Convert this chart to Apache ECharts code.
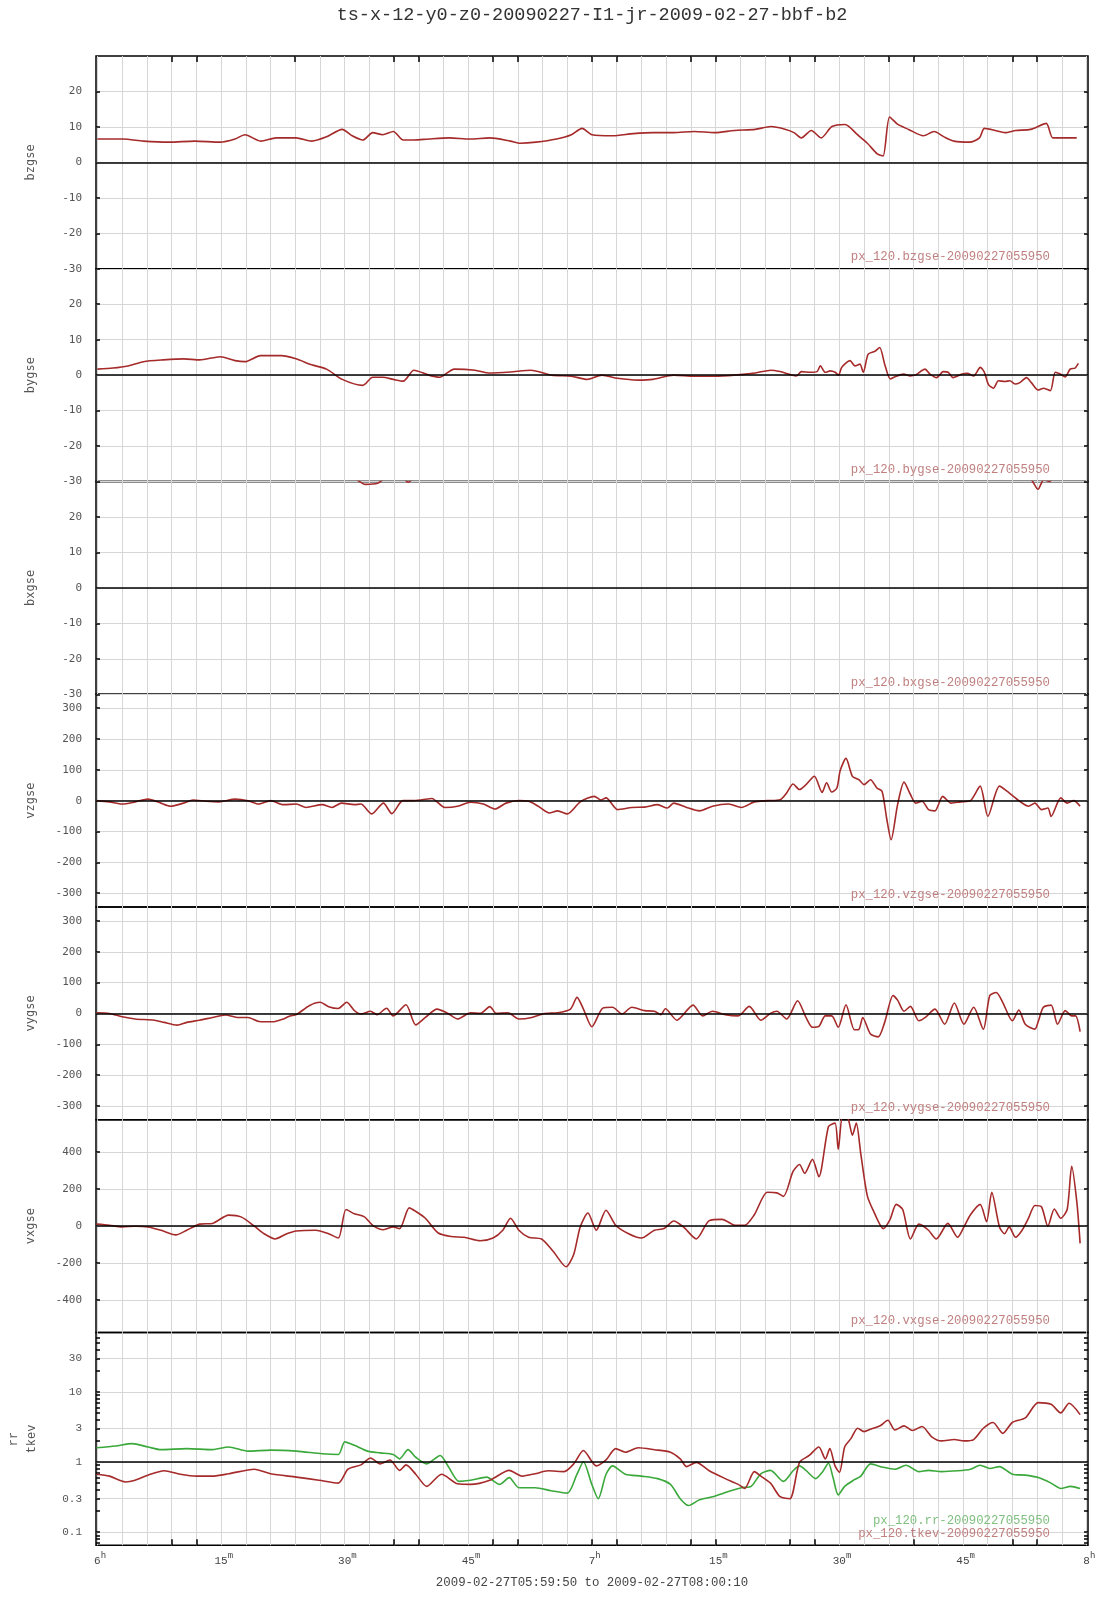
<!DOCTYPE html>
<html><head><meta charset="utf-8">
<script src="https://cdn.jsdelivr.net/npm/echarts@6/dist/echarts.min.js"></script>
<style>html,body{margin:0;padding:0;background:#fff}#c{width:1107px;height:1600px}</style>
</head><body><div id="c"></div>
<script>
const titleText = 'ts-x-12-y0-z0-20090227-I1-jr-2009-02-27-bbf-b2';
const rangeText = '2009-02-27T05:59:50 to 2009-02-27T08:00:10';
// x axis in minutes after 06:00
const xStart = -1/6, xEnd = 120 + 1/6;
const xGridMinutes = [0,3,6,9,12,15,18,21,24,27,30,33,36,39,42,45,48,51,54,57,60,63,66,69,72,75,78,81,84,87,90,93,96,99,102,105,108,111,114,117,120];
const xLabelMinutes = [0,15,30,45,60,75,90,105,120];
const xLabelMain = ['6','15','30','45','7','15','30','45','8'];
const xLabelUnit = ['h','m','m','m','h','m','m','m','h'];
const xTopTickMinutes = [9,12,24,36,39,48,51,60,63,72,75,84,87,96,99,111,114];
const xBottomTickMinutes = [9,12,36,39,48,51,60,63,72,75,84,87,99,111,114];

const bTicks = [-30,-20,-10,0,10,20];
const vTicks = [-300,-200,-100,0,100,200,300];
const vxTicks = [-400,-200,0,200,400];
const logTicks = [0.1,0.3,1,3,10,30];
const logMinorTicks = [0.07,0.08,0.09,0.2,0.4,0.5,0.6,0.7,0.8,0.9,2,4,5,6,7,8,9,20,40,50,60];

// [minute, value]
const bzgse = [[0,6.6],[3.1,6.6],[5.6,6.0],[8.7,5.7],[11.8,6.0],[14.9,5.7],[16.7,6.6],[17.9,7.8],[19.8,6.0],[21.7,6.9],[24.1,6.9],[26,6.0],[27.8,7.2],[29.7,9.3],[30.9,7.5],[32.2,6.3],[33.4,8.4],[34.6,7.8],[35.9,8.7],[37.1,6.3],[38.4,6.3],[40.2,6.6],[42.7,6.9],[45.2,6.6],[47.6,6.9],[50.1,6.0],[51.3,5.4],[53.2,5.7],[55.7,6.6],[57.5,7.8],[58.8,9.6],[60,7.8],[62.5,7.5],[65,8.1],[67.4,8.4],[69.9,8.4],[72.4,8.7],[74.9,8.4],[77.3,9.0],[79.8,9.3],[81.7,10.1],[83.5,9.3],[84.5,8.4],[85.4,6.9],[86.6,9.0],[87.8,6.9],[89.1,10.1],[90.7,10.7],[92.2,7.8],[93.4,5.4],[94.6,2.4],[95.3,1.8],[96.1,12.8],[97.1,10.7],[98.4,9.3],[100.2,7.5],[101.5,8.7],[102.7,7.2],[103.9,6.0],[105.8,5.7],[107,6.9],[107.6,9.6],[108.9,9.0],[110.1,8.4],[111.4,9.0],[113.2,9.3],[115.1,11.0],[115.9,6.9],[117.5,6.9],[118.8,6.9]];
const bygse = [[0,1.7],[1.9,2.0],[3.7,2.6],[5.6,3.8],[8,4.3],[10.5,4.6],[12.4,4.3],[14.9,5.2],[16.7,4.1],[17.9,3.8],[19.8,5.5],[22.3,5.5],[24.1,4.6],[26,2.9],[27.8,1.7],[29.7,-1.2],[32.2,-2.9],[33.4,-0.6],[34.6,-0.6],[35.9,-1.2],[37.1,-1.7],[38.4,1.4],[40.2,0],[41.5,-0.6],[43.3,1.7],[45.8,1.4],[47.6,0.6],[50.1,0.9],[52.6,1.4],[55.1,0],[57.5,-0.3],[59.4,-1.2],[61.2,0],[63.1,-0.9],[65.6,-1.4],[67.4,-1.2],[69.9,0],[72.4,-0.3],[74.9,-0.3],[77.3,0],[79.8,0.6],[81.7,1.4],[82.8,1.0],[84.8,-0.2],[85.4,1.0],[86.5,0.8],[87.3,1.0],[87.7,2.6],[88.3,0.8],[88.9,1.2],[89.5,0.8],[89.9,0],[90.3,2.2],[91.3,4.1],[91.9,2.6],[92.5,3.1],[92.9,0.8],[93.5,5.9],[94.3,6.7],[94.9,7.8],[95.5,3.1],[96.2,-1.1],[96.8,-0.4],[97.8,0.3],[98.6,-0.2],[99.2,0],[100.4,1.7],[101,0.3],[101.8,-0.7],[102.6,1.0],[103.2,0.8],[103.8,-0.7],[104.9,0.3],[105.5,0.5],[106.3,-0.2],[107.1,2.2],[107.6,0.8],[108.1,-2.7],[108.7,-3.7],[109.3,-1.6],[110.1,-1.8],[110.7,-1.6],[111.3,-2.5],[111.9,-2.1],[112.7,-0.7],[113.3,-2.1],[114.1,-4.2],[114.8,-3.7],[115.6,-4.4],[116.2,0.8],[116.8,0.3],[117.4,-0.5],[118,1.7],[118.6,2.0],[119,3.3]];
const bxgse = [[-0.1,34],[15,35],[30,33],[31.5,30.5],[32.5,29.2],[34,29.5],[35,31],[37,31],[37.7,29.8],[38.5,31],[60,34],[90,35],[112,33],[113.3,30.5],[114.1,27.8],[114.8,30.5],[115.5,30],[116,31],[119.2,33]];
const vzgse = [[-0.1,0],[1.45,-4],[3.01,-11],[4.58,-4],[6.14,5],[7.71,-8],[8.88,-18],[10.45,-8],[11.62,2],[13.18,-2],[14.75,-4],[16.71,5],[18.27,0],[19.6,-11],[21.01,0],[22.57,-13],[24.14,-11],[25.31,-22],[27.27,-13],[28.44,-22],[29.62,-8],[31.18,-13],[31.96,-11],[33.29,-43],[34.7,-8],[35.72,-42],[37.05,0],[38.22,0],[39.4,3],[40.57,7],[42.14,-22],[43.7,-18],[45.27,-5],[46.83,-11],[48.24,-27],[49.57,-8],[51.13,0],[52.31,-2],[53.48,-18],[54.81,-40],[55.83,-33],[57,-43],[58.57,-4],[60.29,14],[61.07,2],[61.7,9],[63.11,-29],[64.83,-22],[66.39,-21],[67.96,-13],[69.13,-24],[69.91,-8],[71.48,-22],[73.04,-33],[74.61,-18],[76.56,-11],[78.13,-22],[79.69,-4],[81.26,0],[82.82,3],[83.61,25],[84.39,54],[85.17,36],[85.96,52],[86.97,79],[87.91,27],[88.46,58],[89.08,28],[89.71,41],[90.1,97],[90.81,137],[91.59,79],[92.37,68],[93,52],[93.78,68],[94.56,41],[95.19,30],[95.74,-57],[96.28,-127],[97.07,-13],[97.85,60],[98.63,20],[99.26,-8],[100.04,-2],[100.82,-29],[101.6,-33],[102.54,14],[103.56,-8],[104.73,-4],[105.91,0],[107.08,47],[108.02,-51],[109.43,47],[110.6,25],[111.78,0],[112.95,-18],[113.73,-8],[114.52,-29],[115.3,-24],[115.69,-51],[116.86,9],[117.64,-8],[118.43,0],[119.21,-18]];
const vygse = [[-0.1,2],[1.45,0],[3.01,-11],[4.58,-18],[6.92,-22],[8.1,-29],[9.66,-38],[10.84,-29],[12.4,-22],[13.97,-13],[15.53,-5],[17.1,-13],[18.27,-13],[19.6,-26],[21.4,-27],[22.57,-18],[23.36,-8],[24.14,-4],[25.7,25],[27.03,36],[28.05,22],[29.23,16],[30.24,36],[31.18,9],[31.96,-2],[33.14,7],[33.92,-4],[35.09,17],[35.88,-8],[37.44,28],[38.62,-37],[39.79,-13],[41.2,14],[42.53,0],[43.7,-18],[45.27,2],[46.44,0],[47.61,22],[48.4,0],[49.8,2],[51.13,-18],[52.7,-13],[54.26,0],[55.83,2],[57.39,14],[58.18,52],[58.96,14],[59.98,-43],[61.31,17],[62.48,20],[63.65,-2],[64.83,20],[66.39,9],[67.57,7],[68.35,-4],[68.9,15],[70.3,-22],[72.26,27],[73.43,-8],[74.61,7],[76.17,-4],[77.74,-8],[79.07,23],[80.48,-22],[81.65,0],[82.43,7],[83.61,-18],[84.94,41],[85.96,-13],[86.74,-45],[87.52,-42],[88.3,-8],[89.08,-8],[89.87,-45],[90.81,28],[91.83,-53],[92.37,-52],[92.84,-13],[93.78,-67],[94.72,-76],[95.5,-29],[96.52,58],[97.07,43],[97.85,7],[98.63,23],[99.65,-24],[100.43,-13],[101.6,14],[102.78,-35],[103.95,34],[105.12,-35],[106.3,20],[107.47,-51],[108.25,58],[109.04,68],[109.82,36],[110.99,-24],[111.78,11],[112.56,-35],[113.73,-51],[114.12,-27],[114.75,20],[115.69,27],[116.47,-35],[117.41,9],[118.19,-8],[118.66,-8],[119.21,-59]];
const vxgse = [[-0.1,11],[1.45,5],[3.01,-4],[4.58,0],[6.14,-4],[7.71,-22],[9.51,-47],[10.84,-22],[12.4,11],[13.97,15],[15.92,60],[17.49,49],[19.05,0],[20.23,-41],[21.56,-69],[22.97,-41],[24.14,-26],[26.49,-22],[28.05,-41],[29.23,-64],[30.16,90],[31.18,67],[32.35,52],[33.53,0],[34.7,-19],[35.88,-4],[36.66,-13],[37.83,99],[38.62,80],[39.79,43],[41.35,-37],[42.92,-56],[44.48,-60],[46.44,-79],[48,-64],[49.18,-22],[50.12,43],[51.13,-22],[52.31,-60],[53.87,-69],[55.28,-135],[56.85,-219],[57.78,-153],[58.57,-4],[59.51,71],[60.52,-22],[61.7,86],[62.87,5],[64.44,-41],[66,-64],[67.57,-22],[68.74,-13],[69.91,28],[71.09,-4],[72.65,-69],[74.22,30],[75.78,37],[77.35,5],[78.52,5],[79.69,62],[81.26,183],[82.43,180],[83.22,161],[84.39,296],[85.17,333],[85.8,286],[86.74,361],[87.52,267],[88.69,539],[89.48,557],[89.87,415],[90.41,600],[91.04,585],[91.59,492],[92.06,557],[92.61,389],[93.39,165],[94.17,80],[95.34,-13],[96.13,34],[96.91,118],[97.69,90],[98.63,-69],[99.65,11],[100.82,-22],[101.76,-69],[103.17,15],[104.34,-60],[105.12,-4],[105.91,62],[107.08,118],[107.86,24],[108.49,183],[109.43,-4],[110.05,-41],[110.6,-4],[111.38,-60],[112.17,-22],[112.95,43],[113.73,112],[114.52,105],[115.3,0],[116.08,93],[116.86,43],[117.64,90],[118.19,323],[118.82,127],[119.21,-93]];
const rr = [[-0.1,1.60],[2.23,1.69],[4.19,1.83],[6.14,1.64],[7.71,1.50],[10.84,1.55],[13.97,1.50],[15.92,1.64],[18.27,1.43],[21.01,1.48],[24.14,1.43],[27.27,1.31],[29.23,1.28],[30.01,1.94],[31.18,1.73],[32.75,1.43],[34.31,1.35],[35.88,1.28],[36.66,1.11],[37.68,1.50],[38.62,1.17],[39.95,0.94],[41.59,1.24],[42.53,0.88],[43.86,0.53],[45.27,0.55],[47.22,0.61],[48.79,0.48],[49.96,0.60],[51.13,0.43],[53.09,0.43],[55.05,0.39],[57,0.36],[58.18,0.67],[58.96,1.01],[59.98,0.48],[60.76,0.30],[61.7,0.67],[62.48,0.88],[64.05,0.67],[66,0.63],[67.96,0.58],[69.52,0.48],[70.7,0.30],[71.71,0.24],[73.04,0.29],[74.61,0.32],[76.56,0.38],[78.13,0.43],[79.3,0.45],[80.48,0.68],[81.65,0.76],[83.22,0.53],[84.39,0.75],[85.17,0.88],[85.96,0.76],[87.13,0.58],[87.91,0.71],[88.69,0.96],[89.24,0.60],[89.87,0.34],[90.65,0.45],[91.83,0.56],[92.61,0.63],[93.78,0.94],[95.34,0.84],[96.75,0.79],[98.08,0.90],[99.65,0.73],[100.82,0.76],[102.39,0.73],[104.34,0.75],[105.91,0.79],[107.08,0.90],[108.25,0.81],[109.43,0.86],[110.99,0.67],[112.56,0.65],[114.12,0.60],[115.69,0.50],[116.86,0.42],[118.04,0.45],[119.21,0.42]];
const tkev = [[-0.1,0.67],[1.45,0.63],[3.4,0.52],[4.58,0.55],[6.14,0.65],[8.1,0.75],[10.05,0.67],[12.01,0.63],[13.97,0.63],[15.92,0.68],[19.05,0.79],[21.01,0.68],[24.14,0.61],[26.88,0.55],[29.23,0.50],[30.4,0.79],[31.96,0.91],[33.14,1.14],[34.31,0.94],[35.49,1.07],[36.66,0.76],[37.44,0.91],[38.62,0.67],[39.95,0.45],[41.75,0.67],[43.7,0.49],[45.27,0.48],[47.61,0.55],[49.96,0.76],[51.53,0.63],[53.09,0.68],[54.66,0.75],[56.61,0.73],[57.78,0.94],[58.96,1.46],[60.52,0.88],[61.7,1.07],[62.87,1.55],[64.05,1.38],[65.61,1.60],[67.57,1.50],[69.52,1.38],[70.7,1.11],[71.48,0.86],[72.65,0.99],[74.22,0.75],[76.17,0.58],[77.74,0.48],[78.52,0.42],[79.69,0.73],[80.48,0.63],[81.65,0.50],[82.82,0.32],[84,0.30],[85.17,0.99],[86.35,1.24],[87.52,1.64],[88.3,1.11],[88.85,1.55],[89.48,0.88],[90.02,0.71],[90.65,1.64],[91.43,2.17],[92.22,3.03],[93,2.71],[93.78,2.93],[94.95,3.28],[95.89,3.93],[96.75,2.86],[97.85,3.28],[98.87,2.81],[100.04,3.21],[101.21,2.29],[102.39,2.00],[103.95,2.09],[105.12,2.00],[106.3,2.09],[107.47,3.03],[108.65,3.66],[109.82,2.56],[110.99,3.66],[112.56,4.25],[114.12,7.03],[115.69,6.64],[116.86,5.02],[117.88,6.87],[119.21,4.74]];

const BROWN = '#a52a2a', GREEN = '#3aa83a';
const panels = [
  {name:'bzgse', min:-30, max:30, ticks:bTicks, series:[{d:bzgse,c:BROWN,leg:'px_120.bzgse-20090227055950',lc:'#c08080'}]},
  {name:'bygse', min:-30, max:30, ticks:bTicks, series:[{d:bygse,c:BROWN,leg:'px_120.bygse-20090227055950',lc:'#c08080'}]},
  {name:'bxgse', min:-30, max:30, ticks:bTicks, series:[{d:bxgse,c:BROWN,leg:'px_120.bxgse-20090227055950',lc:'#c08080'}]},
  {name:'vzgse', min:-345, max:345, ticks:vTicks, series:[{d:vzgse,c:BROWN,leg:'px_120.vzgse-20090227055950',lc:'#c08080'}]},
  {name:'vygse', min:-345, max:345, ticks:vTicks, series:[{d:vygse,c:BROWN,leg:'px_120.vygse-20090227055950',lc:'#c08080'}]},
  {name:'vxgse', min:-575, max:575, ticks:vxTicks, series:[{d:vxgse,c:BROWN,leg:'px_120.vxgse-20090227055950',lc:'#c08080'}]},
  {name:'rr\ntkev', log:true, min:0.065, max:70, ticks:logTicks, minor:logMinorTicks, series:[{d:rr,c:GREEN,leg:'px_120.rr-20090227055950',lc:'#80c080'},{d:tkev,c:BROWN,leg:'px_120.tkev-20090227055950',lc:'#c08080'}]}
];

const TOP0 = 56, PH = 212.76, LEFT = 96, RIGHT = 19, PLOT_CX = 592;
const grids = [], xAxes = [], yAxes = [], series = [], graphics = [];
const tf = (p, v) => p.log ? Math.log10(v) : v;
const GRIDC = '#d6d6d6';

function tickAxisX(i, pos, vals) {
  return {type: 'value', gridIndex: i, min: xStart, max: xEnd, position: pos,
    axisLine: {show: false, onZero: false}, splitLine: {show: false}, axisLabel: {show: false},
    axisTick: {show: true, inside: true, length: 6, customValues: vals, lineStyle: {color: '#000', width: 1.5}}};
}

panels.forEach((p, i) => {
  const top = TOP0 + i * PH;
  const last = i === panels.length - 1;
  grids.push({left: LEFT, right: RIGHT, top: top, height: PH, show: true, borderColor: '#000', borderWidth: 1.5,
    backgroundColor: 'transparent', containLabel: false, outerBoundsMode: 'none'});
  const xMain = xAxes.length;
  xAxes.push({
    type: 'value', gridIndex: i, min: xStart, max: xEnd, position: 'bottom',
    axisLine: {show: false, onZero: false},
    axisTick: {show: false, customValues: xGridMinutes},
    splitLine: {show: true, customValues: xGridMinutes, lineStyle: {color: GRIDC, width: 1}},
    axisLabel: last ? {
      show: true, customValues: xLabelMinutes, margin: 6,
      formatter: v => { const k = xLabelMinutes.indexOf(Math.round(v)); return k < 0 ? '' : '{p|' + xLabelUnit[k] + '}{n|' + xLabelMain[k] + '}{s|' + xLabelUnit[k] + '}'; },
      rich: {
        n: {fontFamily: 'Liberation Mono', fontSize: 11, color: '#444', lineHeight: 15, verticalAlign: 'bottom'},
        s: {fontFamily: 'Liberation Mono', fontSize: 9, color: '#444', lineHeight: 15, verticalAlign: 'top'},
        p: {fontFamily: 'Liberation Mono', fontSize: 9, color: 'rgba(0,0,0,0)', lineHeight: 15, verticalAlign: 'top'}
      }
    } : {show: false}
  });
  if (i === 0) xAxes.push(tickAxisX(i, 'top', xTopTickMinutes));
  if (last) xAxes.push(tickAxisX(i, 'bottom', xBottomTickMinutes));

  const tv = p.ticks.map(t => tf(p, t));
  const yMain = yAxes.length;
  const yMin = tf(p, p.min), yMax = tf(p, p.max);
  yAxes.push({
    type: 'value', gridIndex: i, min: yMin, max: yMax, position: 'left',
    axisLine: {show: false, onZero: false},
    axisTick: {show: false, customValues: tv},
    splitLine: {show: true, customValues: tv, lineStyle: {color: GRIDC, width: 1}},
    axisLabel: {
      show: true, customValues: tv, margin: 14,
      fontFamily: p.log ? 'Liberation Mono' : 'DejaVu Sans Mono', fontSize: 11, color: '#555',
      formatter: v => { let best = 0; tv.forEach((t, k) => { if (Math.abs(t - v) < Math.abs(tv[best] - v)) best = k; }); return String(p.ticks[best]); }
    },
    name: p.name, nameLocation: 'middle', nameGap: p.log ? 55 : 56,
    nameTextStyle: {fontFamily: p.log ? 'Liberation Mono' : 'DejaVu Sans Mono', fontSize: 12, color: '#555', lineHeight: 18}
  });
  const smallTicks = p.ticks.filter(t => t !== (p.log ? 1 : 0)).map(t => tf(p, t)).concat((p.minor || []).map(t => tf(p, t)));
  ['left', 'right'].forEach(pos => {
    yAxes.push({type: 'value', gridIndex: i, min: yMin, max: yMax, position: pos,
      axisLine: {show: false, onZero: false}, splitLine: {show: false}, axisLabel: {show: false},
      axisTick: {show: true, inside: true, length: 4, customValues: smallTicks, lineStyle: {color: '#000', width: 1.5}}});
  });

  p.series.forEach((s, j) => {
    series.push({
      type: 'line', xAxisIndex: xMain, yAxisIndex: yMain, data: s.d.map(pt => [pt[0], tf(p, pt[1])]),
      showSymbol: false, smooth: 0.25, clip: true, animation: false, z: 3,
      lineStyle: {color: s.c, width: 1.6}, itemStyle: {color: s.c},
      markLine: j === 0 ? {silent: true, symbol: 'none', animation: false, label: {show: false},
        lineStyle: {color: '#000', width: 1.5, type: 'solid'}, data: [{yAxis: 0}]} : undefined
    });
  });
  const bottom = top + PH;
  const n = p.series.length;
  p.series.forEach((s, j) => {
    graphics.push({type: 'text', x: 1050, y: bottom - 12 - (n - 1 - j) * 13, z: 10,
      style: {text: s.leg, fill: s.lc, font: '12.3px "Liberation Mono"', textAlign: 'right', textVerticalAlign: 'middle'}});
  });
});

graphics.push({type: 'text', x: PLOT_CX, y: 15, style: {text: titleText, fill: '#333', font: '18.5px "Liberation Mono"', textAlign: 'center', textVerticalAlign: 'middle'}});
graphics.push({type: 'text', x: PLOT_CX, y: 1583, style: {text: rangeText, fill: '#444', font: '12.4px "Liberation Mono"', textAlign: 'center', textVerticalAlign: 'middle'}});

const chart = echarts.init(document.getElementById('c'), null, {renderer: 'canvas'});
chart.setOption({animation: false, backgroundColor: '#fff', grid: grids, xAxis: xAxes, yAxis: yAxes, series: series, graphic: graphics});
</script></body></html>
